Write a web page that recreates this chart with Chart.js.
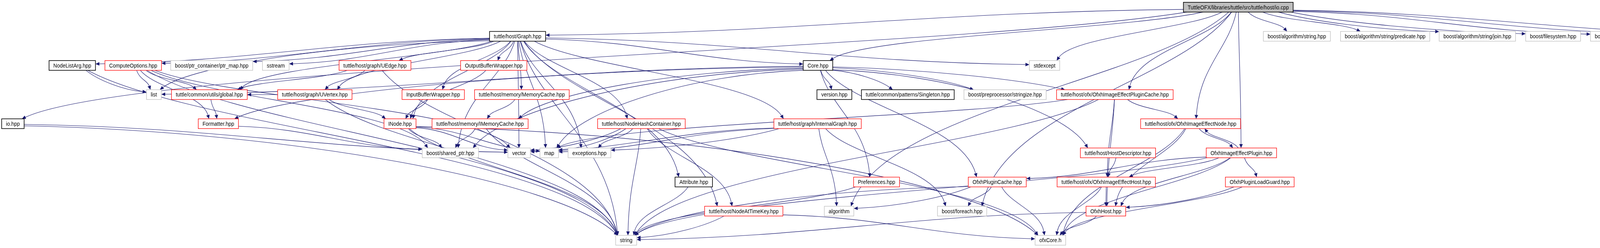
<!DOCTYPE html>
<html>
<head>
<meta charset="utf-8">
<title>io.cpp include dependency graph</title>
<script src="https://cdn.jsdelivr.net/npm/chart.js@4.4.1/dist/chart.umd.min.js"></script>
<style>
  html, body { margin: 0; padding: 0; background: #fff; overflow: hidden; }
  #wrap { width: 4564px; height: 635px; }
</style>
</head>
<body>
<div id="wrap"><canvas id="chart" width="4564" height="635"></canvas></div>
<script>
// Nodes: label, horizontal position (diagram units), rank (row), kind
const nodeLabels = [
  "TuttleOFX/libraries/tuttle/src/tuttle/host/io.cpp",
  "tuttle/host/Graph.hpp", "boost/algorithm/string.hpp", "boost/algorithm/string/predicate.hpp",
  "boost/algorithm/string/join.hpp", "boost/filesystem.hpp", "boost/tuple/tuple.hpp",
  "boost/tuple/tuple_comparison.hpp", "exception",
  "NodeListArg.hpp", "ComputeOptions.hpp", "boost/ptr_container/ptr_map.hpp", "sstream",
  "tuttle/host/graph/UEdge.hpp", "OutputBufferWrapper.hpp", "Core.hpp", "stdexcept",
  "list", "tuttle/common/utils/global.hpp", "tuttle/host/graph/UVertex.hpp", "InputBufferWrapper.hpp",
  "tuttle/host/memory/MemoryCache.hpp", "version.hpp", "tuttle/common/patterns/Singleton.hpp",
  "boost/preprocessor/stringize.hpp", "tuttle/host/ofx/OfxhImageEffectPluginCache.hpp",
  "io.hpp", "Formatter.hpp", "INode.hpp", "tuttle/host/memory/IMemoryCache.hpp",
  "tuttle/host/NodeHashContainer.hpp", "tuttle/host/graph/InternalGraph.hpp",
  "tuttle/host/ofx/OfxhImageEffectNode.hpp",
  "boost/shared_ptr.hpp", "vector", "map", "exceptions.hpp", "tuttle/host/HostDescriptor.hpp",
  "OfxhImageEffectPlugin.hpp",
  "Attribute.hpp", "Preferences.hpp", "OfxhPluginCache.hpp", "tuttle/host/ofx/OfxhImageEffectHost.hpp",
  "OfxhPluginLoadGuard.hpp",
  "tuttle/host/NodeAtTimeKey.hpp", "algorithm", "boost/foreach.hpp", "OfxhHost.hpp",
  "string", "ofxCore.h"
];
const nodeX = [
  3170,
  1325, 3320, 3546, 3782, 3976, 4143, 4347, 4520,
  185, 341, 542, 706, 960, 1264, 2094, 2674,
  394, 536, 806, 1109, 1336, 2136, 2324, 2573, 2854,
  33, 559, 1024, 1229, 1642, 2093, 3048,
  1153, 1329, 1406, 1509, 2862, 3178,
  1776, 2244, 2553, 2832, 3225,
  1904, 2148, 2463, 2831,
  1603, 2689
];
const nodeRank = [
  0,
  1, 1, 1, 1, 1, 1, 1, 1,
  2, 2, 2, 2, 2, 2, 2, 2,
  3, 3, 3, 3, 3, 3, 3, 3, 3,
  4, 4, 4, 4, 4, 4, 4,
  5, 5, 5, 5, 5, 5,
  6, 6, 6, 6, 6,
  7, 7, 7, 7,
  8, 8
];
// root = the file itself, doc = documented header, partial = header with hidden includes, ext = not documented
const nodeKind = [
  "root",
  "doc", "ext", "ext", "ext", "ext", "ext", "ext", "ext",
  "doc", "partial", "ext", "ext", "partial", "partial", "doc", "ext",
  "ext", "partial", "partial", "partial", "partial", "doc", "doc", "ext", "partial",
  "doc", "partial", "partial", "partial", "partial", "partial", "partial",
  "ext", "ext", "ext", "ext", "partial", "partial",
  "doc", "partial", "partial", "partial", "partial",
  "partial", "ext", "ext", "partial",
  "ext", "ext"
];

const ROOT = "TuttleOFX/libraries/tuttle/src/tuttle/host/io.cpp";
const PCACHE = "tuttle/host/ofx/OfxhImageEffectPluginCache.hpp";
const ENODE = "tuttle/host/ofx/OfxhImageEffectNode.hpp";
const EHOST = "tuttle/host/ofx/OfxhImageEffectHost.hpp";

// include edges [from, to]
const edges = [
  [ROOT, "io.hpp"], [ROOT, "tuttle/host/Graph.hpp"], [ROOT, "Core.hpp"], [ROOT, "stdexcept"],
  [ROOT, "algorithm"], [ROOT, "boost/foreach.hpp"], [ROOT, PCACHE], [ROOT, ENODE],
  [ROOT, "OfxhImageEffectPlugin.hpp"], [ROOT, "boost/algorithm/string.hpp"],
  [ROOT, "boost/algorithm/string/predicate.hpp"], [ROOT, "boost/algorithm/string/join.hpp"],
  [ROOT, "boost/filesystem.hpp"], [ROOT, "boost/tuple/tuple.hpp"],
  [ROOT, "boost/tuple/tuple_comparison.hpp"], [ROOT, "exception"],

  ["io.hpp", "string"], ["io.hpp", "vector"],

  ["tuttle/host/Graph.hpp", "NodeListArg.hpp"], ["tuttle/host/Graph.hpp", "ComputeOptions.hpp"],
  ["tuttle/host/Graph.hpp", "boost/ptr_container/ptr_map.hpp"], ["tuttle/host/Graph.hpp", "sstream"],
  ["tuttle/host/Graph.hpp", "list"], ["tuttle/host/Graph.hpp", "tuttle/common/utils/global.hpp"],
  ["tuttle/host/Graph.hpp", "tuttle/host/graph/UEdge.hpp"], ["tuttle/host/Graph.hpp", "tuttle/host/graph/UVertex.hpp"],
  ["tuttle/host/Graph.hpp", "OutputBufferWrapper.hpp"], ["tuttle/host/Graph.hpp", "InputBufferWrapper.hpp"],
  ["tuttle/host/Graph.hpp", "tuttle/host/memory/MemoryCache.hpp"], ["tuttle/host/Graph.hpp", "INode.hpp"],
  ["tuttle/host/Graph.hpp", "tuttle/host/NodeHashContainer.hpp"], ["tuttle/host/Graph.hpp", "tuttle/host/graph/InternalGraph.hpp"],
  ["tuttle/host/Graph.hpp", "Core.hpp"], ["tuttle/host/Graph.hpp", "stdexcept"],
  ["tuttle/host/Graph.hpp", "map"], ["tuttle/host/Graph.hpp", "exceptions.hpp"],
  ["tuttle/host/Graph.hpp", "tuttle/host/NodeAtTimeKey.hpp"], ["tuttle/host/Graph.hpp", "Attribute.hpp"],
  ["tuttle/host/Graph.hpp", "string"], ["tuttle/host/Graph.hpp", "vector"],
  ["tuttle/host/Graph.hpp", "boost/shared_ptr.hpp"],

  ["NodeListArg.hpp", "list"], ["NodeListArg.hpp", "string"],
  ["ComputeOptions.hpp", "list"], ["ComputeOptions.hpp", "tuttle/common/utils/global.hpp"],
  ["ComputeOptions.hpp", "Formatter.hpp"], ["ComputeOptions.hpp", "string"],
  ["ComputeOptions.hpp", "boost/shared_ptr.hpp"], ["ComputeOptions.hpp", "vector"],
  ["tuttle/common/utils/global.hpp", "Formatter.hpp"],
  ["Formatter.hpp", "boost/shared_ptr.hpp"],
  ["tuttle/host/graph/UEdge.hpp", "tuttle/host/graph/UVertex.hpp"],
  ["tuttle/host/graph/UEdge.hpp", "tuttle/common/utils/global.hpp"],
  ["tuttle/host/graph/UEdge.hpp", "string"],
  ["tuttle/host/graph/UVertex.hpp", "INode.hpp"], ["tuttle/host/graph/UVertex.hpp", "string"],
  ["tuttle/host/graph/UVertex.hpp", "tuttle/common/utils/global.hpp"],
  ["OutputBufferWrapper.hpp", "INode.hpp"], ["InputBufferWrapper.hpp", "INode.hpp"],
  ["tuttle/host/memory/MemoryCache.hpp", "tuttle/host/memory/IMemoryCache.hpp"],
  ["INode.hpp", "vector"], ["INode.hpp", "map"], ["INode.hpp", "string"],
  ["INode.hpp", "ofxCore.h"], ["INode.hpp", "boost/shared_ptr.hpp"],
  ["tuttle/host/memory/IMemoryCache.hpp", "boost/shared_ptr.hpp"],
  ["tuttle/host/memory/IMemoryCache.hpp", "string"],
  ["tuttle/host/NodeHashContainer.hpp", "exceptions.hpp"], ["tuttle/host/NodeHashContainer.hpp", "map"],
  ["tuttle/host/NodeHashContainer.hpp", "string"], ["tuttle/host/NodeHashContainer.hpp", "tuttle/host/NodeAtTimeKey.hpp"],
  ["tuttle/host/NodeHashContainer.hpp", "ofxCore.h"], ["tuttle/host/NodeHashContainer.hpp", "vector"],
  ["tuttle/host/graph/InternalGraph.hpp", "algorithm"], ["tuttle/host/graph/InternalGraph.hpp", "boost/foreach.hpp"],
  ["tuttle/host/graph/InternalGraph.hpp", "vector"], ["tuttle/host/graph/InternalGraph.hpp", "map"],
  ["tuttle/host/graph/InternalGraph.hpp", "exceptions.hpp"],

  ["Core.hpp", "version.hpp"], ["Core.hpp", "tuttle/common/patterns/Singleton.hpp"],
  ["Core.hpp", "boost/preprocessor/stringize.hpp"], ["Core.hpp", PCACHE],
  ["Core.hpp", "tuttle/host/HostDescriptor.hpp"], ["Core.hpp", "Formatter.hpp"],
  ["Core.hpp", "tuttle/host/memory/IMemoryCache.hpp"], ["Core.hpp", "boost/shared_ptr.hpp"],
  ["Core.hpp", "Preferences.hpp"], ["Core.hpp", "OfxhPluginCache.hpp"],
  ["Core.hpp", "map"], ["Core.hpp", "list"],

  ["Attribute.hpp", "string"],
  ["tuttle/host/NodeAtTimeKey.hpp", "string"], ["tuttle/host/NodeAtTimeKey.hpp", "ofxCore.h"],
  ["Preferences.hpp", "string"],

  [PCACHE, ENODE], [PCACHE, EHOST], [PCACHE, "OfxhHost.hpp"], [PCACHE, "string"], [PCACHE, "map"],
  [ENODE, "OfxhImageEffectPlugin.hpp"], [ENODE, "OfxhHost.hpp"], [ENODE, "ofxCore.h"],
  ["OfxhImageEffectPlugin.hpp", ENODE], ["OfxhImageEffectPlugin.hpp", "OfxhPluginLoadGuard.hpp"],
  ["OfxhImageEffectPlugin.hpp", EHOST], ["OfxhImageEffectPlugin.hpp", "OfxhPluginCache.hpp"],
  ["OfxhImageEffectPlugin.hpp", "OfxhHost.hpp"], ["OfxhImageEffectPlugin.hpp", "ofxCore.h"],
  ["OfxhImageEffectPlugin.hpp", "string"],
  ["tuttle/host/HostDescriptor.hpp", EHOST],
  [EHOST, "OfxhHost.hpp"], [EHOST, "ofxCore.h"],
  ["OfxhPluginCache.hpp", "boost/foreach.hpp"], ["OfxhPluginCache.hpp", "ofxCore.h"],
  ["OfxhPluginCache.hpp", "string"], ["OfxhPluginCache.hpp", "algorithm"],
  ["OfxhPluginLoadGuard.hpp", "OfxhHost.hpp"], ["OfxhPluginLoadGuard.hpp", "ofxCore.h"],
  ["OfxhHost.hpp", "ofxCore.h"], ["OfxhHost.hpp", "string"]
];

// Styles
const FONT = '13px "Liberation Sans", Arial, sans-serif';
const EDGE_COLOR = '#191970';
const kindStyle = {
  root:    { fill: '#bfbfbf', stroke: '#000000', width: 1.6 },
  doc:     { fill: '#ffffff', stroke: '#000000', width: 1.6 },
  partial: { fill: '#ffffff', stroke: '#ff0000', width: 1.3 },
  ext:     { fill: '#ffffff', stroke: '#bfbfbf', width: 1.3 }
};

function nodeBoxes(chart) {
  const ctx = chart.ctx, xs = chart.scales.x, ys = chart.scales.y;
  ctx.save();
  ctx.font = FONT;
  const boxes = {};
  nodeLabels.forEach((label, i) => {
    const w = ctx.measureText(label).width + 22;
    boxes[label] = {
      label, rank: nodeRank[i], kind: nodeKind[i],
      cx: xs.getPixelForValue(nodeX[i]), cy: ys.getPixelForValue(nodeRank[i]),
      hw: w / 2, hh: 12.5
    };
  });
  ctx.restore();
  return boxes;
}

// point where the line towards (tx,ty) leaves the box
function anchor(b, tx, ty) {
  const dx = tx - b.cx, dy = ty - b.cy;
  const kx = dx === 0 ? Infinity : b.hw / Math.abs(dx);
  const ky = dy === 0 ? Infinity : b.hh / Math.abs(dy);
  const t = Math.min(kx, ky);
  return { x: b.cx + dx * t, y: b.cy + dy * t, side: kx < ky };
}

function edgePath(a, b) {
  const s = anchor(a, b.cx, b.cy);
  let e, c1, c2;
  if (b.rank - a.rank >= 2) {
    // long edge: drop into the top of the target
    const off = Math.max(-b.hw * 0.8, Math.min(b.hw * 0.8, (s.x - b.cx) * 0.12));
    e = { x: b.cx + off, y: b.cy - b.hh };
    const dx = e.x - s.x, dy = e.y - s.y;
    c1 = s.side ? { x: s.x + dx * 0.45, y: s.y + dy * 0.05 } : { x: s.x + dx * 0.2, y: s.y + dy * 0.35 };
    c2 = { x: e.x - dx * 0.1, y: e.y - dy * 0.5 };
  } else {
    e = anchor(b, a.cx, a.cy);
    const dx = e.x - s.x, dy = e.y - s.y;
    c1 = s.side ? { x: s.x + dx * 0.4, y: s.y + dy * 0.1 } : { x: s.x + dx * 0.2, y: s.y + dy * 0.45 };
    c2 = e.side ? { x: e.x - dx * 0.4, y: e.y - dy * 0.1 } : { x: e.x - dx * 0.2, y: e.y - dy * 0.45 };
  }
  return { s, c1, c2, e };
}

const graphPlugin = {
  id: 'includeGraph',
  beforeDatasetsDraw(chart) {
    const ctx = chart.ctx;
    const boxes = nodeBoxes(chart);
    chart.$boxes = boxes;
    ctx.save();
    ctx.strokeStyle = EDGE_COLOR;
    ctx.fillStyle = EDGE_COLOR;
    ctx.lineWidth = 1.1;
    edges.forEach(([from, to]) => {
      let a = boxes[from], b = boxes[to];
      if (!a || !b) return;
      if (b.rank < a.rank) { // back edge, keep it apart from the forward one
        a = Object.assign({}, a, { cx: a.cx + 14 });
        b = Object.assign({}, b, { cx: b.cx + 14 });
      }
      const { s, c1, c2, e } = edgePath(a, b);
      let ang = Math.atan2(e.y - c2.y, e.x - c2.x);
      if (Math.abs(e.y - c2.y) < 0.01 && Math.abs(e.x - c2.x) < 0.01) ang = Math.atan2(e.y - s.y, e.x - s.x);
      const L = 10, W = 4.5;
      const ex = e.x - Math.cos(ang) * L, ey = e.y - Math.sin(ang) * L;
      ctx.beginPath();
      ctx.moveTo(s.x, s.y);
      ctx.bezierCurveTo(c1.x, c1.y, c2.x, c2.y, ex, ey);
      ctx.stroke();
      ctx.beginPath();
      ctx.moveTo(e.x, e.y);
      ctx.lineTo(ex + Math.sin(ang) * W, ey - Math.cos(ang) * W);
      ctx.lineTo(ex - Math.sin(ang) * W, ey + Math.cos(ang) * W);
      ctx.closePath();
      ctx.fill();
    });
    ctx.restore();
  },
  afterDatasetsDraw(chart) {
    const ctx = chart.ctx;
    const boxes = chart.$boxes || nodeBoxes(chart);
    ctx.save();
    ctx.font = FONT;
    ctx.textAlign = 'center';
    ctx.textBaseline = 'middle';
    Object.values(boxes).forEach(b => {
      const st = kindStyle[b.kind];
      ctx.fillStyle = st.fill;
      ctx.fillRect(b.cx - b.hw, b.cy - b.hh, b.hw * 2, b.hh * 2);
      ctx.strokeStyle = st.stroke;
      ctx.lineWidth = st.width;
      ctx.strokeRect(b.cx - b.hw, b.cy - b.hh, b.hw * 2, b.hh * 2);
      ctx.save();
      ctx.translate(b.cx, b.cy + 1);
      ctx.scale(1, 1.15);
      ctx.fillStyle = '#000000';
      ctx.fillText(b.label, 0, 0);
      ctx.restore();
    });
    ctx.restore();
  }
};

const ctx = document.getElementById('chart').getContext('2d');
const chart = new Chart(ctx, {
  type: 'scatter',
  data: {
    datasets: [{
      label: 'headers',
      data: nodeLabels.map((l, i) => ({ x: nodeX[i], y: nodeRank[i] })),
      pointRadius: 0,
      pointHoverRadius: 0
    }]
  },
  options: {
    responsive: false,
    animation: false,
    layout: { padding: 0 },
    scales: {
      x: { type: 'linear', min: 0, max: 4564, display: false },
      y: { type: 'linear', min: -0.2466, max: 8.265, reverse: true, display: false }
    },
    plugins: { legend: { display: false }, tooltip: { enabled: false } }
  },
  plugins: [graphPlugin]
});
</script>
</body>
</html>
